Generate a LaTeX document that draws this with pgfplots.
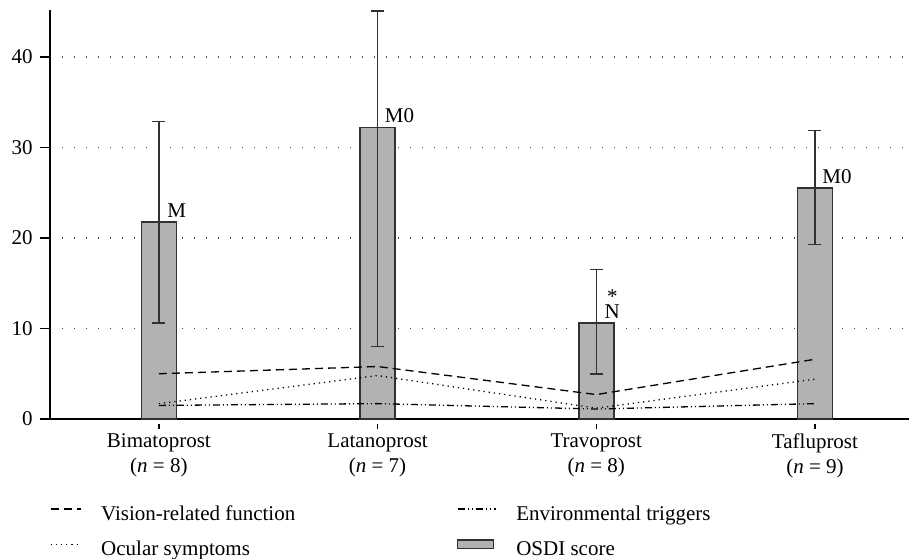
\documentclass[border=0pt]{standalone}
\usepackage{fontspec}
\setmainfont{Liberation Serif}
\usepackage{pgfplots}
\pgfplotsset{compat=1.18}
\usepackage{pgfplotstable}

\definecolor{barfill}{RGB}{178,178,178}
\definecolor{bardraw}{RGB}{50,50,50}

\pgfplotsset{
    lineleg/.style={legend image code/.code={\draw[##1] (0pt,3pt) -- (15pt,3pt);}},
    longleg/.style={legend image code/.code={\draw[##1] (0pt,3pt) -- (19pt,3pt);}},
    boxleg/.style={legend image code/.code={\draw[##1] (0pt,0.8pt) rectangle (18pt,5.2pt);}},
}

% OSDI score: mean, error up, error down
\pgfplotstableread{
x y ep em
0 21.8 11.1 11.2
1 32.2 12.9 24.2
2 10.6 5.9 5.6
3 25.5 6.4 6.2
}\osdi

\pgfplotstableread{
x vis ocu env
0 5.0 1.7 1.5
1 5.8 4.8 1.7
2 2.7 1.2 1.1
3 6.6 4.4 1.7
}\sub

\begin{document}
\fontsize{10.5pt}{12.6pt}\selectfont
\begin{tikzpicture}
\path[use as bounding box] (0,0) rectangle (454.5pt,279pt);
\begin{axis}[
    at={(25pt,69.5pt)}, anchor=south west,
    scale only axis,
    width=429.5pt, height=204.5pt,
    xmin=-0.498, xmax=3.43,
    ymin=0, ymax=45.2,
    clip=false,
    axis x line*=bottom,
    axis y line*=left,
    axis line style={line width=0.6pt, -},
    xtick={0,1,2,3},
    xticklabels={{Bimatoprost\\(\textit{n} = 8)},{Latanoprost\\(\textit{n} = 7)},{Travoprost\\(\textit{n} = 8)},{Tafluprost\\(\textit{n} = 9)}},
    xticklabel style={align=center, font=\fontsize{10.5pt}{12.6pt}\selectfont, yshift=1.5pt},
    ytick={0,10,20,30,40},
    yticklabel style={font=\fontsize{10.5pt}{12.6pt}\selectfont},
    /pgf/number format/assume math mode=true,
    tick align=outside,
    tick pos=left,
    major tick length=5pt,
    xtick style={dash pattern=on 2.5pt off 10pt},
    tick style={line width=0.6pt, black},
    ymajorgrids,
    grid style={dash pattern=on 0.5pt off 5.5pt, line width=0.6pt, black!70},
    legend columns=2,
    legend cell align=left,
    legend style={
        at={(0,-0.2103)}, anchor=north west,
        draw=none, fill=none, inner sep=0pt, outer sep=0pt,
        row sep=7pt,
        nodes={inner sep=0pt, text height=7.5pt, text depth=2.5pt, anchor=west},
        /tikz/every odd column/.append style={column sep=10pt},
        /tikz/every even column/.append style={column sep=80.8pt},
        font=\fontsize{10.5pt}{12.6pt}\selectfont,
    },
]
% legend entries, in the reference's order
\addlegendimage{lineleg, black, line width=0.6pt, dash pattern=on 4pt off 2.5pt}
\addlegendentry{Vision-related function}
\addlegendimage{longleg, black, line width=0.6pt, dash pattern=on 3.5pt off 1.5pt on 0.5pt off 1.5pt on 0.5pt off 1.5pt}
\addlegendentry{Environmental triggers}
\addlegendimage{lineleg, black, line width=0.6pt, dash pattern=on 0.6pt off 2pt}
\addlegendentry{Ocular symptoms}
\addlegendimage{boxleg, fill=barfill, draw=bardraw, line width=0.8pt}
\addlegendentry{OSDI score}

% OSDI bars with error bars
\addplot[ybar, bar width=17.5pt, fill=barfill, draw=bardraw, line width=0.8pt, forget plot,
    error bars/.cd, y dir=both, y explicit,
    error bar style={line width=0.75pt, bardraw},
    error mark options={rotate=90, mark size=3.25pt, line width=0.75pt, bardraw}]
    table[x=x, y=y, y error plus=ep, y error minus=em] {\osdi};

% subscale lines
\addplot[black, line width=0.65pt, dash pattern=on 4pt off 2.5pt, forget plot] table[x=x, y=vis] {\sub};
\addplot[black, line width=0.65pt, dash pattern=on 0.6pt off 2pt, forget plot] table[x=x, y=ocu] {\sub};
\addplot[black, line width=0.65pt, dash pattern=on 3.5pt off 1.5pt on 0.5pt off 1.5pt on 0.5pt off 1.5pt, forget plot] table[x=x, y=env] {\sub};

% significance labels
\node[anchor=base west, inner sep=0pt, xshift=4pt, yshift=2pt] at (axis cs:0,21.8) {M};
\node[anchor=base west, inner sep=0pt, xshift=3.5pt, yshift=2.5pt] at (axis cs:1,32.2) {M0};
\node[anchor=base west, inner sep=0pt, xshift=4pt, yshift=2.5pt] at (axis cs:2,10.6) {\makebox[0pt][l]{\makebox[7.6pt][c]{\raisebox{7.2pt}{*}}}N};
\node[anchor=base west, inner sep=0pt, xshift=3.5pt, yshift=2.5pt] at (axis cs:3,25.5) {M0};
\end{axis}
\end{tikzpicture}
\end{document}
